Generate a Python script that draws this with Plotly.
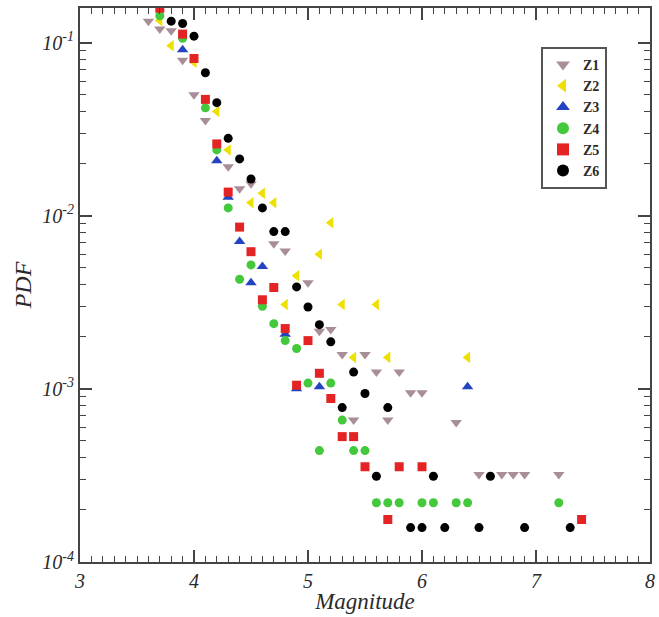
import numpy as np
import plotly.graph_objects as go

# Magnitude bins and PDF values for each zone
z1_mag = [3.6, 3.7, 3.8, 3.9, 4.0, 4.1, 4.3, 4.4, 4.5, 4.7, 4.8, 5.0, 5.1, 5.2,
          5.3, 5.5, 5.6, 5.8, 5.9, 6.0, 5.4, 5.7, 6.3, 6.5, 6.7, 6.8, 6.9, 7.2]
z1_pdf = [0.133, 0.12, 0.117, 0.079, 0.050, 0.0355, 0.0192, 0.0143, 0.0153, 0.0069,
          0.00625, 0.0041, 0.00215, 0.0022, 0.00158, 0.00158, 0.00125, 0.00125,
          0.00095, 0.00095, 0.00066, 0.00066, 0.00064, 0.00032, 0.00032, 0.00032,
          0.00032, 0.00032]

z2_mag = [3.7, 3.8, 4.0, 4.2, 4.3, 4.5, 4.6, 4.7, 4.8, 4.9, 5.1, 5.2, 5.3, 5.6,
          5.4, 5.7, 6.4]
z2_pdf = [0.134, 0.096, 0.077, 0.040, 0.024, 0.0119, 0.0135, 0.0119, 0.00307,
          0.0045, 0.0060, 0.0091, 0.00307, 0.00307, 0.00152, 0.00152, 0.00152]

z3_mag = [3.9, 4.2, 4.3, 4.4, 4.5, 4.6, 4.8, 4.9, 5.1, 6.4]
z3_pdf = [0.091, 0.0208, 0.0128, 0.0071, 0.0041, 0.0051, 0.00207, 0.00100,
          0.00103, 0.00103]

z4_mag = [3.7, 3.9, 4.1, 4.2, 4.3, 4.5, 4.4, 4.6, 4.7, 4.8, 4.9, 5.0, 5.2, 5.3,
          5.1, 5.4, 5.5, 5.6, 5.7, 5.8, 6.0, 6.1, 6.3, 6.4, 7.2]
z4_pdf = [0.143, 0.106, 0.042, 0.0240, 0.0111, 0.0052, 0.0043, 0.0030, 0.00238,
          0.0019, 0.00171, 0.00108, 0.00108, 0.00066, 0.00044, 0.00044, 0.00044,
          0.00022, 0.00022, 0.00022, 0.00022, 0.00022, 0.00022, 0.00022, 0.00022]

z5_mag = [3.7, 3.9, 4.0, 4.1, 4.2, 4.3, 4.4, 4.5, 4.6, 4.7, 4.8, 4.9, 5.0, 5.1,
          5.2, 5.3, 5.4, 5.5, 5.8, 6.0, 5.7, 7.4]
z5_pdf = [0.158, 0.112, 0.081, 0.047, 0.026, 0.0137, 0.0086, 0.0062, 0.00327,
          0.00385, 0.00223, 0.00105, 0.0019, 0.00123, 0.00088, 0.00053, 0.00053,
          0.000355, 0.000355, 0.000355, 0.000176, 0.000176]

z6_mag = [3.8, 3.9, 4.0, 4.1, 4.2, 4.3, 4.4, 4.5, 4.6, 4.7, 4.8, 4.9, 5.0, 5.1,
          5.2, 5.4, 5.5, 5.3, 5.7, 5.6, 6.1, 6.6, 5.9, 6.0, 6.2, 6.5, 6.9, 7.3]
z6_pdf = [0.133, 0.129, 0.109, 0.067, 0.045, 0.028, 0.0213, 0.0163, 0.0111,
          0.0081, 0.0081, 0.00388, 0.00297, 0.00235, 0.00187, 0.00125, 0.00094,
          0.00078, 0.00078, 0.000313, 0.000313, 0.000313, 0.000158, 0.000158,
          0.000158, 0.000158, 0.000158, 0.000158]

series = [
    ("Z1", z1_mag, z1_pdf, "triangle-down", "#a88e98", 10),
    ("Z2", z2_mag, z2_pdf, "triangle-left", "#eee000", 10),
    ("Z3", z3_mag, z3_pdf, "triangle-up", "#2244c0", 10),
    ("Z4", z4_mag, z4_pdf, "circle", "#44c83c", 9),
    ("Z5", z5_mag, z5_pdf, "square", "#e42424", 9),
    ("Z6", z6_mag, z6_pdf, "circle", "#000000", 9),
]

serif = "Liberation Serif"
axis_col = "#444444"
text_col = "#2a2a2a"

fig = go.Figure()
for name, xs, ys, sym, col, sz in series:
    fig.add_trace(go.Scatter(
        x=xs, y=ys, mode="markers", name=name,
        marker=dict(symbol=sym, color=col, size=sz, line=dict(width=0)),
    ))

# log minor ticks at 2..9 of each decade
minor_y = [m * 10.0 ** e for e in range(-4, 0) for m in range(2, 10)]

fig.update_layout(
    width=659, height=617,
    margin=dict(l=80, r=9, t=8, b=55),
    paper_bgcolor="white", plot_bgcolor="white",
    font=dict(family=serif, color=text_col),
    showlegend=True,
    legend=dict(
        x=(541 - 80) / 570, y=(562 - 47) / 554, xanchor="left", yanchor="top",
        bgcolor="white", bordercolor="#555555", borderwidth=2,
        font=dict(family=serif, size=14, color=text_col, weight="bold"),
        itemsizing="constant", tracegroupgap=0, itemwidth=30,
    ),
    xaxis=dict(
        range=[3, 8], dtick=1, tick0=3,
        showline=True, linewidth=2, linecolor=axis_col, mirror="allticks",
        ticks="inside", ticklen=12, tickwidth=1.5, tickcolor=axis_col,
        minor=dict(dtick=0.1, ticks="inside", ticklen=6, tickwidth=1.2,
                   tickcolor=axis_col, showgrid=False),
        showgrid=False, zeroline=False,
        tickfont=dict(family=serif, size=20, style="italic", color=text_col),
        title=dict(text="Magnitude", standoff=2,
                   font=dict(family=serif, size=23, style="italic", color=text_col)),
        automargin=False,
    ),
    yaxis=dict(
        type="log", range=[-4, -0.8],
        tickvals=[1e-4, 1e-3, 1e-2, 1e-1],
        ticktext=["10<sup>-4</sup>", "10<sup>-3</sup>", "10<sup>-2</sup>", "10<sup>-1</sup>"],
        showline=True, linewidth=2, linecolor=axis_col, mirror="allticks",
        ticks="inside", ticklen=12, tickwidth=1.5, tickcolor=axis_col,
        minor=dict(tickvals=minor_y, ticks="inside", ticklen=6, tickwidth=1.2,
                   tickcolor=axis_col, showgrid=False),
        showgrid=False, zeroline=False,
        tickfont=dict(family=serif, size=20, style="italic", color=text_col),
        title=dict(text="PDF", standoff=4,
                   font=dict(family=serif, size=24, style="italic", color=text_col)),
        automargin=False,
    ),
)

fig.write_html("out.html")
